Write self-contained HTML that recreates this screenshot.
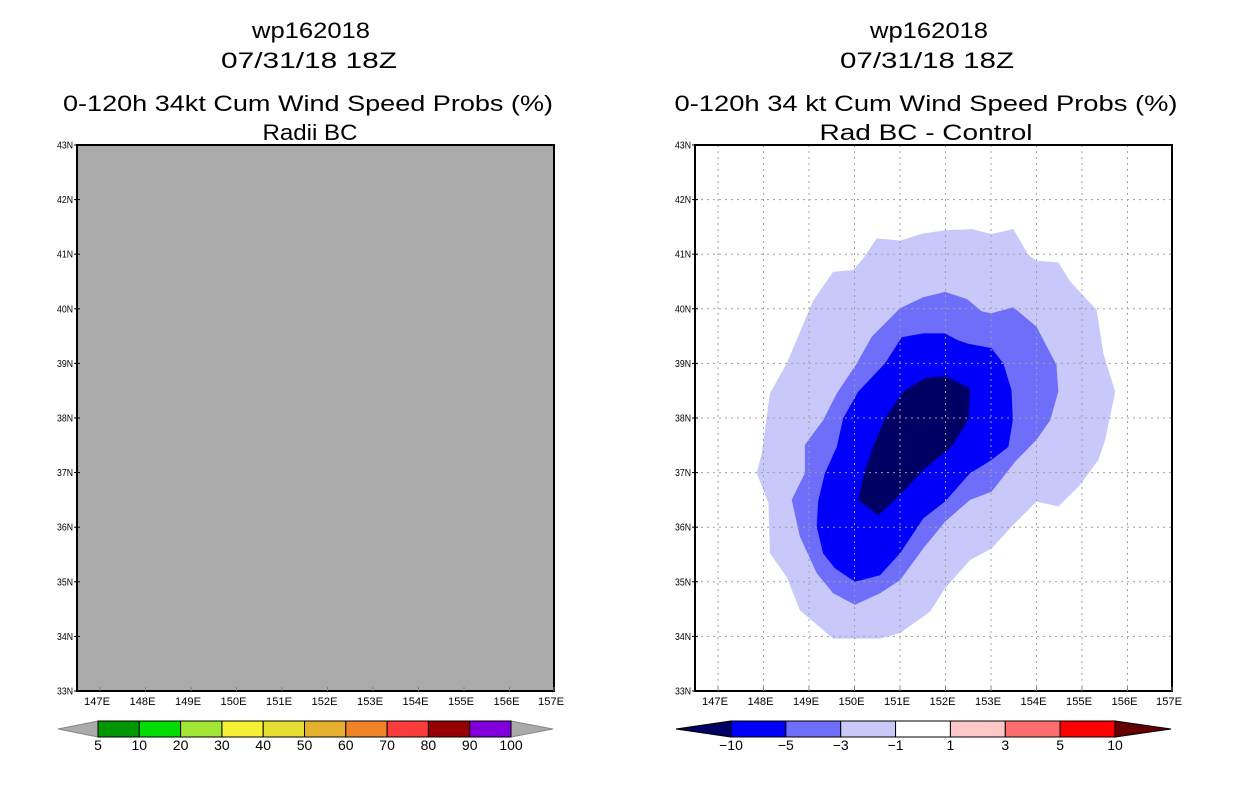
<!DOCTYPE html>
<html><head><meta charset="utf-8">
<style>
html,body{margin:0;padding:0;background:#fff;}
svg{display:block;font-family:"Liberation Sans",sans-serif;}
</style></head>
<body>
<svg id="chart" width="1236" height="800" viewBox="0 0 1236 800">
<rect x="0" y="0" width="1236" height="800" fill="#fff"/>
<g id="titles">
<text x="311" y="38" font-size="22" text-anchor="middle" textLength="118" lengthAdjust="spacingAndGlyphs">wp162018</text>
<text x="309" y="68" font-size="22" text-anchor="middle" textLength="176" lengthAdjust="spacingAndGlyphs">07/31/18 18Z</text>
<text x="308" y="111" font-size="22" text-anchor="middle" textLength="490" lengthAdjust="spacingAndGlyphs">0-120h 34kt Cum Wind Speed Probs (%)</text>
<text x="310" y="140" font-size="22" text-anchor="middle" textLength="95" lengthAdjust="spacingAndGlyphs">Radii BC</text>
<text x="929" y="38" font-size="22" text-anchor="middle" textLength="118" lengthAdjust="spacingAndGlyphs">wp162018</text>
<text x="927" y="68" font-size="22" text-anchor="middle" textLength="174" lengthAdjust="spacingAndGlyphs">07/31/18 18Z</text>
<text x="926" y="111" font-size="22" text-anchor="middle" textLength="503" lengthAdjust="spacingAndGlyphs">0-120h 34 kt Cum Wind Speed Probs (%)</text>
<text x="926" y="140" font-size="22" text-anchor="middle" textLength="213" lengthAdjust="spacingAndGlyphs">Rad BC - Control</text>
</g>
<g id="left"></g>
<g id="right"></g>
<g id="cbars"></g>
</svg>
<script>
// axis data
const lonTicks = [147,148,149,150,151,152,153,154,155,156,157];
const lonLabels = ["147E","148E","149E","150E","151E","152E","153E","154E","155E","156E","157E"];
const latTicks = [33,34,35,36,37,38,39,40,41,42,43];
const latLabels = ["33N","34N","35N","36N","37N","38N","39N","40N","41N","42N","43N"];
// contour bands (lon, lat), right panel difference field
const band3Lon = [150.49,151.0,151.51,151.99,152.58,153.01,153.49,153.82,154.0,154.48,154.74,155.32,155.47,155.73,155.51,155.36,154.92,154.48,154.0,153.45,153.01,152.54,151.99,151.66,151.0,150.56,149.53,148.8,148.51,148.14,148.11,147.85,147.96,148.14,148.51,148.91,149.1,149.53,149.97,150.19];
const band3Lat = [41.29,41.25,41.38,41.44,41.46,41.37,41.46,40.99,40.88,40.85,40.5,39.98,39.18,38.48,37.6,37.23,36.74,36.38,36.47,36.01,35.61,35.4,34.88,34.45,34.06,33.96,33.96,34.48,35.09,35.52,36.44,36.99,37.35,38.45,39.0,39.79,40.16,40.68,40.71,40.92];
const band5Lon = [150.38,151.0,151.51,151.99,152.47,152.8,153.01,153.49,154.0,154.44,154.48,154.3,154.0,153.53,153.01,152.54,151.99,151.51,151.0,150.56,150.01,149.53,149.17,148.8,148.62,148.91,148.91,149.31,149.61,150.05];
const band5Lat = [39.49,40.01,40.21,40.31,40.18,39.95,39.92,40.03,39.67,38.97,38.48,37.96,37.6,37.2,36.65,36.5,36.1,35.61,35.03,34.79,34.58,34.79,35.16,35.83,36.5,36.99,37.51,37.96,38.45,39.0];
const band10Lon = [151.04,151.51,151.99,152.25,152.5,153.01,153.27,153.45,153.48,153.38,153.01,152.54,151.99,151.51,151.0,150.56,150.01,149.57,149.31,149.17,149.2,149.35,149.61,149.75,150.08,150.67];
const band10Lat = [39.48,39.55,39.55,39.43,39.36,39.28,39.0,38.51,37.96,37.47,37.23,36.99,36.47,36.16,35.52,35.12,35.0,35.25,35.52,36.01,36.47,36.99,37.47,37.99,38.48,39.0];
const bandMinLon = [151.07,151.55,151.99,152.54,152.5,152.13,151.51,151.0,150.52,150.08,150.23,150.41,150.67];
const bandMinLat = [38.48,38.73,38.77,38.54,37.96,37.47,37.05,36.59,36.22,36.5,37.05,37.47,37.99];
const bands = [
 {lon:band3Lon, lat:band3Lat, color:"#c8c8fa", name:"contour-minus1-to-minus3"},
 {lon:band5Lon, lat:band5Lat, color:"#6e6efa", name:"contour-minus3-to-minus5"},
 {lon:band10Lon, lat:band10Lat, color:"#0000fa", name:"contour-minus5-to-minus10"},
 {lon:bandMinLon, lat:bandMinLat, color:"#000064", name:"contour-below-minus10"}
];
// colorbars
const probLevels = ["5","10","20","30","40","50","60","70","80","90","100"];
const probColors = ["#009600","#00dc00","#a0e632","#f5f032","#e6dc32","#e6af2d","#f08228","#fa3c3c","#960000","#8200dc"];
const diffLevels = ["-10","-5","-3","-1","1","3","5","10"];
const diffColors = ["#0000fa","#6e6efa","#c8c8fa","#ffffff","#ffc8c8","#ff6e6e","#ff0000"];

const NS="http://www.w3.org/2000/svg";
function mk(tag, attrs, parent){const e=document.createElementNS(NS,tag);for(const k in attrs)e.setAttribute(k,attrs[k]);parent.appendChild(e);return e;}

function drawPanel(g, x0, showGrid, fillGray, isRight){
  const L=x0, R=x0+477, T=145, B=691;
  const xs = lon => x0 + 23 + (lon-147)*45.5;
  const ys = lat => T + (43-lat)*54.6;
  if(fillGray){
    const r=mk('rect',{x:L,y:T,width:R-L,height:B-T,fill:"#aaaaaa"},g);
    
    
  }
  if(isRight){
    bands.forEach(b=>{
      const pts=b.lon.map((lo,i)=>xs(lo).toFixed(1)+","+ys(b.lat[i]).toFixed(1)).join(" ");
      const p=mk('polygon',{points:pts,fill:b.color},g);
      
      
    });
  }
  if(showGrid){
    lonTicks.forEach(lo=>{const x=xs(lo); if(x>L+2&&x<R-2){const l=mk('line',{x1:x,y1:T,x2:x,y2:B,stroke:"#a0a0a0","stroke-width":1,"stroke-dasharray":"2,4"},g);
      
      }});
    latTicks.forEach(la=>{const y=ys(la); if(y>T+2&&y<B-2){const l=mk('line',{x1:L,y1:y,x2:R,y2:y,stroke:"#a0a0a0","stroke-width":1,"stroke-dasharray":"2,4"},g);
      
      }});
  }
  const f=mk('rect',{x:L,y:T,width:R-L,height:B-T,fill:"none",stroke:"#000","stroke-width":2},g);
  
  
  latTicks.forEach((la,i)=>{
    const y=ys(la);
    const tk=mk('line',{x1:L-3,y1:y,x2:L+3,y2:y,stroke:"#000","stroke-width":1},g);
    
    
    const t=mk('text',{x:L-4,y:y+3.5,"font-size":10,"text-anchor":"end",textLength:16,lengthAdjust:"spacingAndGlyphs"},g);
    t.textContent=latLabels[i];
    
    
  });
  lonTicks.forEach((lo,i)=>{
    let x=xs(lo); if(x>R) x=R;
    const tk=mk('line',{x1:x,y1:B-4,x2:x,y2:B,stroke:"#808080","stroke-width":1},g);
    
    
    const t=mk('text',{x:x-3,y:B+14,"font-size":11,"text-anchor":"middle",textLength:26,lengthAdjust:"spacingAndGlyphs"},g);
    t.textContent=lonLabels[i];
    
    
  });
}
drawPanel(document.getElementById('left'),77,false,true,false);
drawPanel(document.getElementById('right'),695,true,false,true);

function drawBar(g, x0, x1, triL, triR, levels, colors, lcol, rcol, bord){
  const T=721,B=737,M=729;
  const w=(x1-x0)/colors.length;
  const tl=mk('polygon',{points:`${triL},${M} ${x0},${T} ${x0},${B}`,fill:lcol,stroke:bord,"stroke-width":1},g);
  
  
  const tr=mk('polygon',{points:`${triR},${M} ${x1},${T} ${x1},${B}`,fill:rcol,stroke:bord,"stroke-width":1},g);
  
  
  colors.forEach((c,i)=>{
    const r=mk('rect',{x:x0+i*w,y:T,width:w,height:B-T,fill:c,stroke:"#000","stroke-width":1},g);
    
    
  });
  levels.forEach((lv,i)=>{
    const t=mk('text',{x:x0+i*w,y:750,"font-size":14,"text-anchor":"middle"},g);
    t.textContent=lv.replace('-','\u2212');
    
    
  });
}
const cb=document.getElementById('cbars');
drawBar(cb,98,511,58,553,probLevels,probColors,"#aaaaaa","#aaaaaa","#888");
drawBar(cb,731,1115,676,1171,diffLevels,diffColors,"#000064","#640000","#000");
</script>
</body></html>
